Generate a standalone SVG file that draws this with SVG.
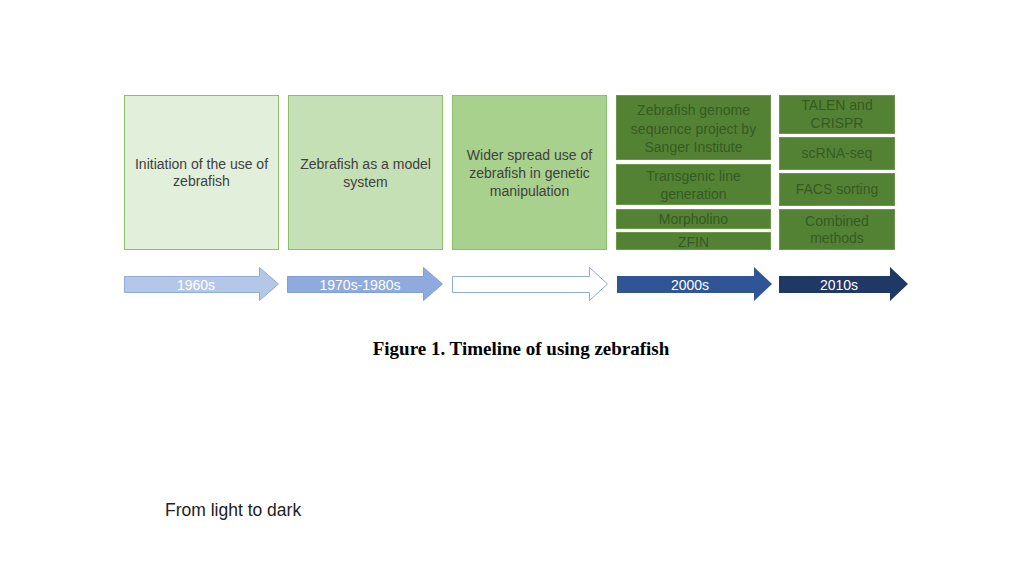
<svg xmlns="http://www.w3.org/2000/svg" width="1024" height="576" viewBox="0 0 1024 576">
<style>
.t{font-family:"Liberation Sans",Arial,sans-serif;font-size:14px;text-anchor:middle;dominant-baseline:central}
.lt{fill:#404040}
.dk{fill:#355a22}
.w{fill:#ffffff}
.b1{fill:#e2efda;stroke:#8cbf6c;stroke-width:1}
.b2{fill:#c5e0b4;stroke:#8cbf6c;stroke-width:1}
.b3{fill:#a9d18e;stroke:#8cbf6c;stroke-width:1}
.bd{fill:#548235;stroke:#6a9a48;stroke-width:1}
</style>
<rect width="1024" height="576" fill="#ffffff"/>
<g id="node-1960s">
<rect class="b1" x="124.5" y="95.5" width="154" height="154"/>
<text class="t lt" x="201.5" y="164">Initiation of the use of</text>
<text class="t lt" x="201.5" y="181">zebrafish</text>
</g>
<g id="node-1970s">
<rect class="b2" x="288.5" y="95.5" width="154" height="154"/>
<text class="t lt" x="365.5" y="164">Zebrafish as a model</text>
<text class="t lt" x="365.5" y="182">system</text>
</g>
<g id="node-1990s">
<rect class="b3" x="452.5" y="95.5" width="154" height="154"/>
<text class="t lt" x="529.5" y="155">Wider spread use of</text>
<text class="t lt" x="529.5" y="173">zebrafish in genetic</text>
<text class="t lt" x="529.5" y="191">manipulation</text>
</g>
<g id="node-2000s">
<rect class="bd" x="616.5" y="95.5" width="154" height="64"/>
<text class="t dk" x="693.5" y="110">Zebrafish genome</text>
<text class="t dk" x="693.5" y="129">sequence project by</text>
<text class="t dk" x="693.5" y="147">Sanger Institute</text>
<rect class="bd" x="616.5" y="164.5" width="154" height="40"/>
<text class="t dk" x="693.5" y="176">Transgenic line</text>
<text class="t dk" x="693.5" y="194">generation</text>
<rect class="bd" x="616.5" y="209.5" width="154" height="19"/>
<text class="t dk" x="693.5" y="219">Morpholino</text>
<rect class="bd" x="616.5" y="232.5" width="154" height="17"/>
<text class="t dk" x="693.5" y="241.5">ZFIN</text>
</g>
<g id="node-2010s">
<rect class="bd" x="779.5" y="95.5" width="115" height="38"/>
<text class="t dk" x="837" y="105">TALEN and</text>
<text class="t dk" x="837" y="123">CRISPR</text>
<rect class="bd" x="779.5" y="137.5" width="115" height="32"/>
<text class="t dk" x="837" y="153">scRNA-seq</text>
<rect class="bd" x="779.5" y="173.5" width="115" height="32"/>
<text class="t dk" x="837" y="189">FACS sorting</text>
<rect class="bd" x="779.5" y="209.5" width="115" height="40"/>
<text class="t dk" x="837" y="221">Combined</text>
<text class="t dk" x="837" y="238">methods</text>
</g>
<g id="connectors">
<g id="arrow-1960s">
<polygon points="124.5,276.5 259.5,276.5 259.5,267.5 278.5,284 259.5,300.5 259.5,292.5 124.5,292.5" fill="#b4c7e7" stroke="#8faadc" stroke-width="1"/>
<text class="t w" x="196" y="284.5">1960s</text>
</g>
<g id="arrow-1970s">
<polygon points="287.5,276.5 423.5,276.5 423.5,267.5 442.5,284 423.5,300.5 423.5,292.5 287.5,292.5" fill="#8faadc" stroke="#7f9fd6" stroke-width="1"/>
<text class="t w" x="360" y="284.5">1970s-1980s</text>
</g>
<g id="arrow-1990s">
<polygon points="452.5,276.5 589.5,276.5 589.5,267.5 607.5,284 589.5,300.5 589.5,292.5 452.5,292.5" fill="#ffffff" stroke="#8faadc" stroke-width="1"/>
</g>
<g id="arrow-2000s">
<polygon points="617,276 754,276 754,267 772,284 754,301 754,293 617,293" fill="#2f5597"/>
<text class="t w" x="690" y="284.5">2000s</text>
</g>
<g id="arrow-2010s">
<polygon points="779,276 890,276 890,267 908,284 890,301 890,293 779,293" fill="#203864"/>
<text class="t w" x="839" y="284.5">2010s</text>
</g>
</g>
<text x="521" y="355" font-family="'Liberation Serif','Times New Roman',serif" font-size="19" font-weight="bold" text-anchor="middle" fill="#000000">Figure 1. Timeline of using zebrafish</text>
<text x="165" y="516" font-family="'Liberation Sans',Arial,sans-serif" font-size="17.5" fill="#222222">From light to dark</text>
</svg>
